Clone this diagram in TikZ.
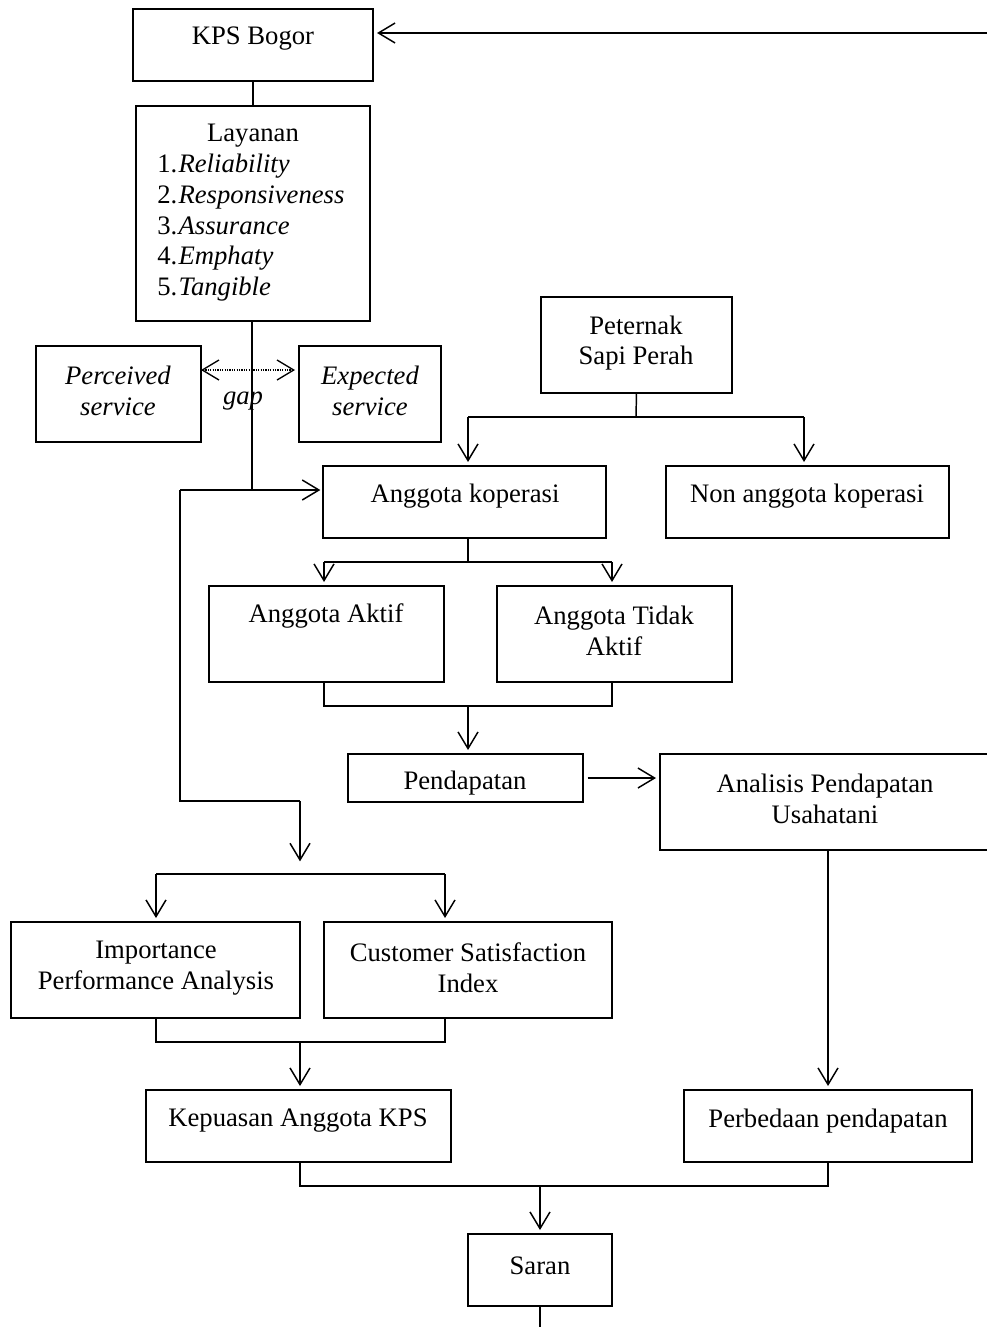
\documentclass[tikz,border=0pt]{standalone}
\usepackage{fontspec}
\setmainfont{Liberation Serif}
\usetikzlibrary{arrows.meta}
\newcommand{\mkbox}[5]{\node[bx, minimum width={(#4-#2)*0.75pt}, minimum height={(#5-#3)*0.75pt}] (#1) at ({(#2+#4)/2},{(#3+#5)/2}) {};}
\begin{document}
\begin{tikzpicture}[x=0.75pt,y=-0.75pt,
 bx/.style={draw, line width=1.5pt, inner sep=0pt, outer sep=0pt},
 txt/.style={font=\fontsize{20pt}{23pt}\selectfont, align=center, inner sep=0pt, yshift=-2.2pt},
 lst/.style={txt, anchor=west, text height=14pt, text depth=4.5pt},
 ln/.style={line width=1.1pt},
 tip/.style={-{Straight Barb[length=12.5pt,width=15pt]}},
 arr/.style={ln, tip, shorten >=3pt},
 ]
\clip (0,0) rectangle (987,1327);
\fill[white] (0,0) rectangle (987,1327);
% boxes
\mkbox{kps}{133}{9}{373}{81}
\mkbox{lay}{136}{106}{370}{321}
\mkbox{perc}{36}{346}{201}{442}
\mkbox{expe}{299}{346}{441}{442}
\mkbox{pet}{541}{297}{732}{393}
\mkbox{ak}{323}{466}{606}{538}
\mkbox{nak}{666}{466}{949}{538}
\mkbox{aktif}{209}{586}{444}{682}
\mkbox{tidak}{497}{586}{732}{682}
\mkbox{pend}{348}{754}{583}{802}
\mkbox{anal}{660}{754}{995}{850}
\mkbox{ipa}{11}{922}{300}{1018}
\mkbox{csi}{324}{922}{612}{1018}
\mkbox{kep}{146}{1090}{451}{1162}
\mkbox{perb}{684}{1090}{972}{1162}
\mkbox{saran}{468}{1234}{612}{1306}
% texts
\node[txt] (kpsT) at (253,36) {KPS Bogor};
\node[txt] (layT) at (253,133) {Layanan};
\node[lst] (l1) at (157,163) {1.\hspace{1pt}\textit{Reliability}};
\node[lst] (l2) at (157,194) {2.\hspace{1pt}\textit{Responsiveness}};
\node[lst] (l3) at (157,225) {3.\hspace{1pt}\textit{Assurance}};
\node[lst] (l4) at (157,255) {4.\hspace{1pt}\textit{Emphaty}};
\node[lst] (l5) at (157,286) {5.\hspace{1pt}\textit{Tangible}};
\node[txt] (percT) at (118,388) {\textit{Perceived}\\\textit{service}};
\node[txt] (expeT) at (370,388) {\textit{Expected}\\\textit{service}};
\node[txt] (gapT) at (243,398) {\textit{gap}};
\node[txt] (petT) at (636,340) {Peternak\\Sapi Perah};
\node[txt] (akT) at (465,493) {Anggota koperasi};
\node[txt] (nakT) at (807,493) {Non anggota koperasi};
\node[txt] (aktifT) at (326,613) {Anggota Aktif};
\node[txt] (tidakT) at (614,628) {Anggota Tidak\\Aktif};
\node[txt] (pendT) at (465,780) {Pendapatan};
\node[txt] (analT) at (825,796) {Analisis Pendapatan\\Usahatani};
\node[txt] (ipaT) at (156,965) {Importance\\Performance Analysis};
\node[txt] (csiT) at (468,965) {Customer Satisfaction\\Index};
\node[txt] (kepT) at (298,1118) {Kepuasan Anggota KPS};
\node[txt] (perbT) at (828,1118) {Perbedaan pendapatan};
\node[txt] (saranT) at (540,1263) {Saran};
% junction coordinates
\coordinate (redge) at (987,33);
\coordinate (j1) at (252,490);
\coordinate (lc) at (180,490);
\coordinate (lc2) at (180,801);
\coordinate (lc3) at (300,801);
\coordinate (gy) at (0,370);
\coordinate (pb) at (636,417);
\coordinate (pbl) at (468,417);
\coordinate (pbr) at (804,417);
\coordinate (ab) at (468,562);
\coordinate (abl) at (324,562);
\coordinate (abr) at (612,562);
\coordinate (mg) at (468,706);
\coordinate (mgl) at (324,706);
\coordinate (mgr) at (612,706);
\coordinate (ib) at (300,874);
\coordinate (ibl) at (156,874);
\coordinate (ibr) at (445,874);
\coordinate (im) at (300,1042);
\coordinate (iml) at (156,1042);
\coordinate (imr) at (445,1042);
\coordinate (fm) at (540,1186);
\coordinate (fml) at (300,1186);
\coordinate (fmr) at (828,1186);
\coordinate (bedge) at (540,1327);
% connectors
\draw[arr] (redge) -- (kps.east |- redge);
\draw[ln] (kps.south) -- (lay.north);
\draw[ln] (lay.south -| j1) -- (j1);
\draw[arr, shorten >=2pt] (lc) -- (ak.west |- lc);
\draw[ln] (lc) -- (lc2) -- (lc3);
\draw[ln, tip] (lc3) -- ([yshift=3.5pt]ib |- 0,866);
\draw[line width=1pt, dash pattern=on 0.9pt off 0.9pt, {Straight Barb[length=12.5pt,width=15pt]}-{Straight Barb[length=12.5pt,width=15pt]}, shorten >=3pt] (perc.east |- gy) -- (expe.west |- gy);
\draw[ln] (pet.south) -- (pb);
\draw[ln] (pbl) -- (pbr);
\draw[arr] (pbl) -- (pbl |- ak.north);
\draw[arr] (pbr) -- (pbr |- nak.north);
\draw[ln] (ak.south -| ab) -- (ab);
\draw[ln] (abl) -- (abr);
\draw[arr] (abl) -- (abl |- aktif.north);
\draw[arr] (abr) -- (abr |- tidak.north);
\draw[ln] (aktif.south -| mgl) -- (mgl) -- (mgr) -- (tidak.south -| mgr);
\draw[arr] (mg) -- (mg |- pend.north);
\draw[arr, shorten <=3.5pt] (pend.east) -- (anal.west |- pend.east);
\draw[ln] (ibl) -- (ibr);
\draw[arr] (ibl) -- (ibl |- ipa.north);
\draw[arr] (ibr) -- (ibr |- csi.north);
\draw[ln] (ipa.south -| iml) -- (iml) -- (imr) -- (csi.south -| imr);
\draw[arr] (im) -- (im |- kep.north);
\draw[arr] (anal.south -| fmr) -- (fmr |- perb.north);
\draw[ln] (kep.south -| fml) -- (fml) -- (fmr) -- (perb.south -| fmr);
\draw[arr] (fm) -- (fm |- saran.north);
\draw[ln] (saran.south -| bedge) -- (bedge);
\end{tikzpicture}
\end{document}
